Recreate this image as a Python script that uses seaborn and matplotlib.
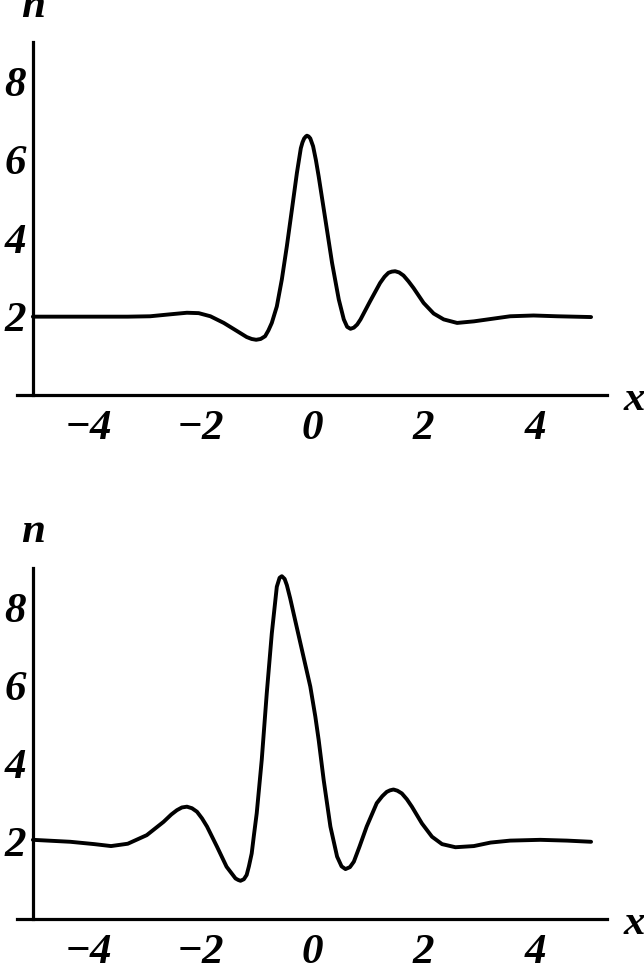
import matplotlib
matplotlib.use("Agg")
import matplotlib.pyplot as plt
import pandas as pd
import seaborn as sns

# ---------------- data ----------------
top_x = [-5.0, -4.0, -3.3, -2.9, -2.54, -2.24, -2.03, -1.82, -1.58, -1.34,
         -1.17, -1.08, -1.0, -0.92, -0.84, -0.78, -0.72, -0.63, -0.54, -0.45,
         -0.36, -0.27, -0.2, -0.17, -0.14, -0.11, -0.09, -0.06, -0.03, 0.02,
         0.07, 0.12, 0.24, 0.36, 0.48, 0.57, 0.63, 0.69, 0.75, 0.81,
         0.87, 1.04, 1.22, 1.3, 1.37, 1.43, 1.49, 1.56, 1.64, 1.73,
         1.82, 2.0, 2.18, 2.36, 2.6, 2.9, 3.2, 3.55, 3.97, 4.39,
         5.0]
top_n = [2.0, 2.0, 2.0, 2.01, 2.06, 2.1, 2.09, 2.01, 1.84, 1.63,
         1.48, 1.43, 1.41, 1.43, 1.5, 1.65, 1.84, 2.26, 2.95, 3.8,
         4.73, 5.67, 6.3, 6.45, 6.55, 6.6, 6.62, 6.6, 6.55, 6.35,
         6.0, 5.58, 4.48, 3.37, 2.44, 1.93, 1.74, 1.69, 1.72, 1.8,
         1.93, 2.39, 2.86, 3.02, 3.12, 3.15, 3.16, 3.13, 3.05, 2.9,
         2.73, 2.35, 2.08, 1.93, 1.84, 1.88, 1.94, 2.01, 2.03, 2.01,
         1.99]

bot_x = [-5.0, -4.33, -3.9, -3.6, -3.3, -2.96, -2.66, -2.52, -2.42, -2.33,
         -2.24, -2.15, -2.06, -1.97, -1.88, -1.7, -1.53, -1.37, -1.32, -1.28,
         -1.22, -1.17, -1.13, -1.08, -1.04, -0.99, -0.9, -0.81, -0.72, -0.63,
         -0.58, -0.54, -0.49, -0.45, -0.39, -0.33, -0.18, -0.03, 0.06, 0.12,
         0.21, 0.33, 0.45, 0.53, 0.6, 0.68, 0.75, 0.85, 0.98, 1.16,
         1.26, 1.34, 1.4, 1.46, 1.53, 1.61, 1.7, 1.79, 1.97, 2.15,
         2.33, 2.57, 2.9, 3.2, 3.55, 4.09, 4.57, 5.0]
bot_n = [2.03, 1.98, 1.92, 1.87, 1.93, 2.15, 2.49, 2.68, 2.79, 2.86,
         2.88, 2.84, 2.75, 2.58, 2.37, 1.85, 1.34, 1.04, 1.0, 0.98,
         1.02, 1.13, 1.35, 1.68, 2.15, 2.71, 4.08, 5.79, 7.32, 8.52,
         8.75, 8.79, 8.72, 8.56, 8.22, 7.84, 6.9, 5.96, 5.19, 4.59,
         3.56, 2.37, 1.6, 1.35, 1.28, 1.33, 1.47, 1.85, 2.37, 2.97,
         3.15, 3.26, 3.3, 3.32, 3.29, 3.22, 3.07, 2.88, 2.45, 2.11,
         1.92, 1.84, 1.87, 1.96, 2.01, 2.03, 2.01, 1.98]

x_ticks = [-4, -2, 0, 2, 4]
x_tick_labels = ["\u22124", "\u22122", "0", "2", "4"]
y_ticks = [2, 4, 6, 8]
y_tick_labels = ["2", "4", "6", "8"]

# ---------------- style ----------------
sns.set_theme(style="white")
plt.rcParams["font.family"] = ["Liberation Serif", "DejaVu Serif"]
plt.rcParams["axes.unicode_minus"] = True

W, H = 644, 967
fig = plt.figure(figsize=(W / 100, H / 100), dpi=100)
FS = 31
FW = "bold"


def make_panel(top_px, bottom_px, ytop, xs, ns):
    ax = fig.add_axes([16.7 / W, 1 - bottom_px / H, 590 / W, (bottom_px - top_px) / H])
    df = pd.DataFrame({"x": xs, "n": ns})
    sns.lineplot(data=df, x="x", y="n", ax=ax, color="black", linewidth=2.8,
                 solid_joinstyle="round", solid_capstyle="round")
    ax.set_xlim(-5.29, 5.28)
    ax.set_ylim(0, ytop)
    for s in ("top", "right"):
        ax.spines[s].set_visible(False)
    ax.spines["left"].set_position(("data", -5))
    ax.spines["left"].set_bounds(0, 9)
    for s in ("left", "bottom"):
        ax.spines[s].set_color("black")
        ax.spines[s].set_linewidth(2.3)
    ax.set_xticks(x_ticks)
    ax.set_xticklabels(x_tick_labels, fontstyle="italic", fontweight=FW, fontsize=FS)
    ax.set_yticks(y_ticks)
    ax.set_yticklabels(y_tick_labels, fontstyle="italic", fontweight=FW, fontsize=FS)
    ax.tick_params(axis="both", direction="in", length=2.5, width=1.0, color="black",
                   labelcolor="black")
    ax.tick_params(axis="x", pad=11)
    ax.tick_params(axis="y", pad=5)
    ax.set_xlabel("")
    ax.set_ylabel("")
    ax.grid(False)
    ax.text(-5, 9.66, "n", ha="center", va="baseline", fontsize=FS, fontweight=FW,
            fontstyle="italic", color="black", clip_on=False)
    ax.text(5.58, -0.38, "x", ha="left", va="baseline", fontsize=FS, fontweight=FW,
            fontstyle="italic", color="black", clip_on=False)
    return ax


make_panel(41.7, 395, 9.02, top_x, top_n)
make_panel(568, 919, 9.0, bot_x, bot_n)

fig.savefig("out.png", dpi=100, facecolor="white")
